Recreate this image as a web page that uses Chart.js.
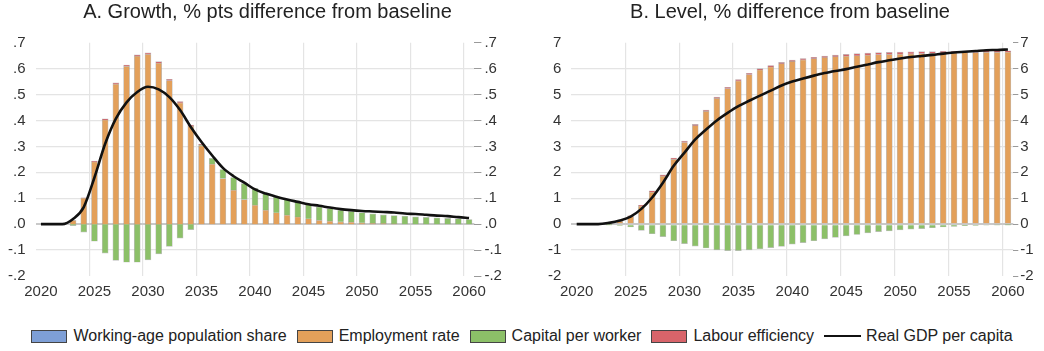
<!DOCTYPE html>
<html>
<head>
<meta charset="utf-8">
<script src="https://cdn.jsdelivr.net/npm/chart.js@4.4.1/dist/chart.umd.min.js"></script>
<style>
  html, body { margin: 0; padding: 0; background: #fff; }
  body { width: 1044px; height: 351px; position: relative; overflow: hidden;
         font-family: "Liberation Sans", Arial, sans-serif; }
  #wrapA { position: absolute; left: 0; top: 0; width: 529px; height: 300px; }
  #wrapB { position: absolute; left: 520px; top: 0; width: 524px; height: 300px; }
  .legend { position: absolute; left: 0; top: 327px; width: 1044px; height: 18px;
            display: flex; justify-content: center; align-items: center;
            font-size: 16px; color: #222; white-space: nowrap; }
  .legend .item { display: flex; align-items: center; margin: 0 5px; }
  .legend .sw { display: inline-block; width: 34px; height: 11px; border: 1px solid #444; margin-right: 6px; }
  .legend .ln { display: inline-block; width: 37px; height: 2px; background: #111; margin-right: 5px; }
</style>
</head>
<body>
<div id="wrapA"><canvas id="chartA" width="529" height="300"></canvas></div>
<div id="wrapB"><canvas id="chartB" width="524" height="300"></canvas></div>
<div class="legend" id="legend"></div>

<script>
// years on the horizontal axis
const years = [2020, 2021, 2022, 2023, 2024, 2025, 2026, 2027, 2028, 2029,
               2030, 2031, 2032, 2033, 2034, 2035, 2036, 2037, 2038, 2039,
               2040, 2041, 2042, 2043, 2044, 2045, 2046, 2047, 2048, 2049,
               2050, 2051, 2052, 2053, 2054, 2055, 2056, 2057, 2058, 2059, 2060];

const seriesNames  = ['Working-age population share', 'Employment rate', 'Capital per worker', 'Labour efficiency', 'Real GDP per capita'];
const seriesColors = ['#7e9fd6', '#e3a05a', '#8cc068', '#d8646a', '#111111'];

// A. growth contributions, % pts
const growthWorkAge = [0, 0, 0, 0, 0, 0, 0, 0, 0, 0,
                       0, 0, 0, 0, 0, 0, 0, 0, 0, 0,
                       0, 0, 0, 0, 0, 0, 0, 0, 0, 0,
                       0, 0, 0, 0, 0, 0, 0, 0, 0, 0, 0];
const growthEmp = [0, 0, 0, 0.015, 0.10, 0.24, 0.402, 0.54, 0.609, 0.648,
                   0.655, 0.621, 0.554, 0.468, 0.378, 0.302, 0.232, 0.176, 0.131, 0.095,
                   0.073, 0.054, 0.044, 0.035, 0.028, 0.021, 0.015, 0.012, 0.009, 0.008,
                   0.005, 0.003, 0.002, 0.001, 0, 0, 0, 0, 0, 0, 0];
const growthCap = [0, 0, 0, -0.006, -0.031, -0.066, -0.112, -0.14, -0.147, -0.147,
                   -0.138, -0.115, -0.086, -0.054, -0.021, 0.003, 0.022, 0.035, 0.049, 0.062,
                   0.065, 0.064, 0.061, 0.06, 0.057, 0.055, 0.052, 0.048, 0.045, 0.041,
                   0.039, 0.037, 0.034, 0.032, 0.031, 0.028, 0.026, 0.024, 0.022, 0.021, 0.018];
const growthLab = [0, 0, 0, 0, 0.002, 0.003, 0.004, 0.005, 0.005, 0.005,
                   0.006, 0.006, 0.005, 0.005, 0.004, 0.003, 0, 0, 0, 0,
                   0, 0, 0, 0, 0, 0, 0, 0, 0, 0,
                   0, 0, 0, 0, 0, 0, 0, 0, 0, 0, 0];
const growthGdp = [0, 0, 0, 0.02, 0.066, 0.18, 0.31, 0.407, 0.47, 0.51,
                   0.53, 0.52, 0.49, 0.44, 0.375, 0.317, 0.265, 0.217, 0.185, 0.16,
                   0.134, 0.118, 0.106, 0.095, 0.086, 0.077, 0.071, 0.064, 0.058, 0.054,
                   0.051, 0.049, 0.047, 0.045, 0.041, 0.039, 0.036, 0.033, 0.031, 0.027, 0.024];

// B. level contributions, % difference
const levelWorkAge = [0, 0, 0, 0, 0, 0, 0, 0, 0, 0,
                      0, 0, 0, 0, 0, 0, 0, 0, 0, 0,
                      0, 0, 0, 0, 0, 0, 0, 0, 0, 0,
                      0, 0, 0, 0, 0, 0, 0, 0, 0, 0, 0];
const levelEmp = [0, 0, 0, 0.04, 0.12, 0.31, 0.70, 1.24, 1.85, 2.50,
                  3.15, 3.80, 4.35, 4.85, 5.23, 5.53, 5.77, 5.95, 6.07, 6.19,
                  6.28, 6.34, 6.39, 6.43, 6.46, 6.48, 6.50, 6.52, 6.54, 6.55,
                  6.56, 6.57, 6.58, 6.59, 6.60, 6.61, 6.62, 6.62, 6.63, 6.63, 6.64];
const levelCap = [0, 0, 0, -0.01, -0.05, -0.11, -0.24, -0.37, -0.48, -0.64,
                  -0.75, -0.85, -0.92, -0.99, -1.02, -1.02, -0.99, -0.95, -0.91, -0.86,
                  -0.77, -0.71, -0.64, -0.57, -0.51, -0.45, -0.40, -0.34, -0.29, -0.26,
                  -0.22, -0.19, -0.17, -0.14, -0.11, -0.09, -0.06, -0.05, -0.04, -0.03, -0.02];
const levelLab = [0, 0, 0, 0, 0, 0.01, 0.03, 0.05, 0.05, 0.05,
                  0.05, 0.05, 0.05, 0.05, 0.05, 0.05, 0.05, 0.05, 0.05, 0.05,
                  0.05, 0.05, 0.05, 0.05, 0.06, 0.07, 0.08, 0.08, 0.08, 0.08,
                  0.08, 0.08, 0.08, 0.07, 0.07, 0.06, 0.06, 0.06, 0.06, 0.06, 0.05];
const levelGdp = [0, 0, 0, 0.05, 0.14, 0.29, 0.59, 1.03, 1.6, 2.25,
                  2.76, 3.27, 3.65, 4.0, 4.29, 4.55, 4.76, 4.96, 5.15, 5.35,
                  5.5, 5.62, 5.73, 5.83, 5.91, 5.98, 6.07, 6.16, 6.25, 6.32,
                  6.39, 6.45, 6.49, 6.53, 6.58, 6.62, 6.65, 6.68, 6.71, 6.72, 6.74];

Chart.defaults.font.family = '"Liberation Sans", Arial, sans-serif';
Chart.defaults.color = '#333';

const barOpts = { barThickness: 6, borderWidth: 0.7, borderColor: 'rgba(150,150,150,0.6)', stack: 'parts', order: 1 };

function datasets(workAge, emp, cap, lab, gdp) {
  return [
    { type: 'line', label: seriesNames[4], data: gdp, borderColor: seriesColors[4], borderWidth: 2.6,
      pointRadius: 0, cubicInterpolationMode: 'monotone', stack: 'gdp', order: 0, yAxisID: 'y' },
    { type: 'bar', label: seriesNames[0], data: workAge, backgroundColor: seriesColors[0], ...barOpts },
    { type: 'bar', label: seriesNames[1], data: emp, backgroundColor: seriesColors[1], ...barOpts },
    { type: 'bar', label: seriesNames[2], data: cap, backgroundColor: seriesColors[2], ...barOpts },
    { type: 'bar', label: seriesNames[3], data: lab, backgroundColor: seriesColors[3], ...barOpts },
  ];
}

// padLeft shifts the centred title; y tick labels must still fit inside the left axis box
function makeChart(id, title, data, yMin, yMax, step, fmt, padLeft, leftW, rightW, rightTick, rightPad) {
  const hGrid = c => {
    if (!c.tick) return 'rgba(0,0,0,0)';
    const v = Math.round(c.tick.value * 1000) / 1000;
    if (v === yMin || v === yMax) return 'rgba(0,0,0,0)';
    return v === 0 ? '#c9c9c9' : '#e4e4e4';
  };
  const tickFont = { size: 15 };
  return new Chart(document.getElementById(id), {
    data: { labels: years, datasets: data },
    options: {
      responsive: false, animation: false,
      layout: { padding: { left: padLeft, top: 0, right: 0, bottom: 0 } },
      plugins: {
        legend: { display: false }, tooltip: { enabled: false },
        title: { display: true, text: title, color: '#222', font: { size: 20, weight: 'normal' },
                 padding: { top: 0, bottom: 18.7 } },
      },
      scales: {
        x: {
          stacked: true, offset: true,
          grid: { offset: true, drawTicks: false, lineWidth: 1.2,
                  color: c => (c.index > 0 && c.index % 5 === 0) ? '#e4e4e4' : 'rgba(0,0,0,0)' },
          border: { display: false },
          ticks: { autoSkip: false, maxRotation: 0, padding: 7, color: '#333', font: tickFont,
                   callback: (v, i) => i % 5 === 0 ? String(years[i]) : '' },
          afterFit: s => { s.height = 24; },
        },
        y: {
          position: 'left', stacked: true, min: yMin, max: yMax,
          grid: { drawTicks: false, color: hGrid, lineWidth: c => (c.tick && Math.abs(c.tick.value) < 1e-9) ? 2 : 1.2 },
          border: { display: false },
          ticks: { stepSize: step, padding: 10, color: '#333', font: tickFont, callback: fmt },
          afterFit: s => { s.width = leftW; },
        },
        y2: {
          position: 'right', min: yMin, max: yMax,
          grid: { drawOnChartArea: false, drawTicks: true, tickLength: rightTick, tickColor: '#9a9a9a', tickWidth: 1 },
          border: { display: false },
          ticks: { stepSize: step, padding: rightPad, color: '#333', font: tickFont, callback: fmt },
          afterFit: s => { s.width = rightW; },
        },
      },
    },
  });
}

const fmtGrowth = v => {
  const n = Math.round(v * 10);
  return n === 0 ? '.0' : (n < 0 ? '-.' : '.') + Math.abs(n);
};
const fmtLevel = v => String(Math.round(v));

makeChart('chartA', 'A. Growth, % pts difference from baseline',
  datasets(growthWorkAge, growthEmp, growthCap, growthLab, growthGdp),
  -0.2, 0.7, 0.1, fmtGrowth, 6, 29.6, 54.6, 7, 3);

makeChart('chartB', 'B. Level, % difference from baseline',
  datasets(levelWorkAge, levelEmp, levelCap, levelLab, levelGdp),
  -2, 7, 1, fmtLevel, 16, 35.3, 30.7, 5, 2);

// shared legend below both panels
const legendEl = document.getElementById('legend');
seriesNames.forEach((name, i) => {
  const item = document.createElement('span');
  item.className = 'item';
  const mark = document.createElement('i');
  if (i === 4) {
    mark.className = 'ln';
  } else {
    mark.className = 'sw';
    mark.style.background = seriesColors[i];
  }
  item.appendChild(mark);
  item.appendChild(document.createTextNode(name));
  legendEl.appendChild(item);
});
</script>
</body>
</html>
